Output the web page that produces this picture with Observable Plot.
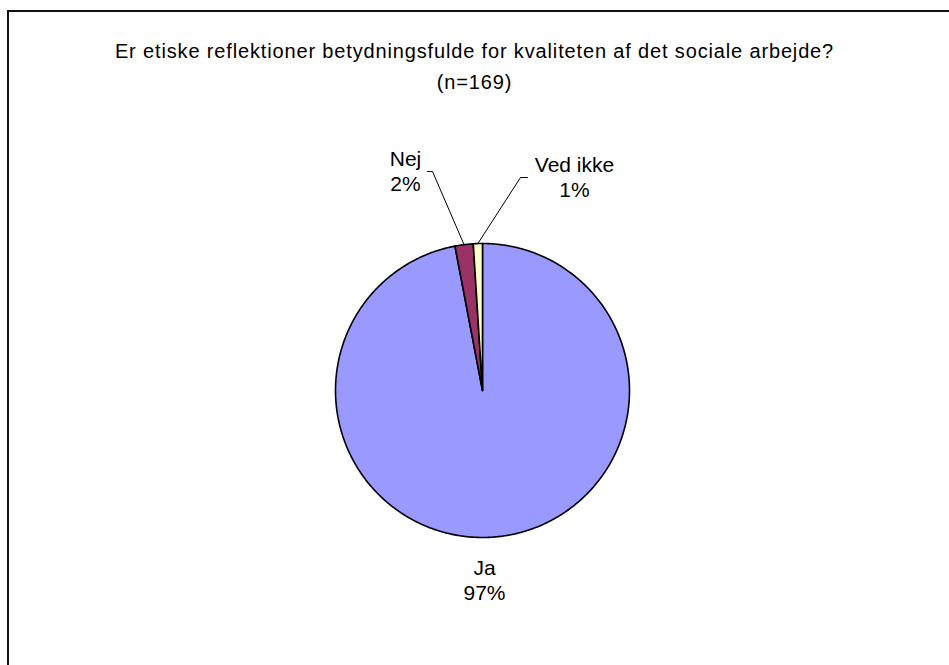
<!DOCTYPE html>
<html>
<head>
<meta charset="utf-8">
<script src="https://cdn.jsdelivr.net/npm/d3@7"></script>
<script src="https://cdn.jsdelivr.net/npm/@observablehq/plot@0.6"></script>
<style>
  html, body { margin: 0; padding: 0; background: #fff; overflow: hidden; }
  body { width: 949px; height: 665px; position: relative; font-family: Arial, "Liberation Sans", sans-serif; }
  #frame { position: absolute; left: 7px; top: 10px; width: 1000px; height: 720px; border-left: 2px solid #111; border-top: 2px solid #111; box-sizing: border-box; }
  #title { position: relative; width: 949px; box-sizing: border-box; text-align: center; font-size: 20px; letter-spacing: 0.85px; line-height: 31px; color: #000; padding-top: 36px; height: 100px; }
  #title div { width: 949px; }
  #chart { position: relative; }
</style>
</head>
<body>
<div id="frame"></div>
<div id="title"><div>Er etiske reflektioner betydningsfulde for kvaliteten af det sociale arbejde?</div><div>(n=169)</div></div>
<div id="chart"></div>
<script>
// ---- data ----
const categories = ["Ja", "Nej", "Ved ikke"];
const percents = [97, 2, 1];
const sliceColors = ["#9999FF", "#993366", "#FFFFCC"];

// ---- layout (pixels within the SVG) ----
const W = 949, H = 565, CX = 482, CY = 290, R = 147;
const px = (x) => (x - CX) / R;
const py = (y) => (CY - y) / R;

// pie geometry
const arcs = d3.pie().sort(null).startAngle(0).endAngle(2 * Math.PI)(percents);
const slicePts = [];
arcs.forEach((a, i) => {
  const cat = categories[i];
  slicePts.push({cat, x: 0, y: 0});
  const n = Math.max(2, Math.ceil((a.endAngle - a.startAngle) / (Math.PI / 360)));
  for (let k = 0; k <= n; k++) {
    const t = a.startAngle + (a.endAngle - a.startAngle) * k / n;
    slicePts.push({cat, x: Math.sin(t), y: Math.cos(t)});
  }
  slicePts.push({cat, x: 0, y: 0});
});

// label placement (layout)
const labelPos = {
  "Ja": {x: px(484), y: py(479), leader: null},
  "Nej": {x: px(405), y: py(70), leader: [[px(432), py(71)], [px(427), py(71)]]},
  "Ved ikke": {x: px(574), y: py(76), leader: [[px(520), py(77)], [px(527), py(77)]]}
};

const labels = arcs.map((a, i) => ({
  cat: categories[i],
  text: categories[i] + "\n" + percents[i] + "%",
  x: labelPos[categories[i]].x,
  y: labelPos[categories[i]].y
}));

const leaderPts = [];
arcs.forEach((a, i) => {
  const lp = labelPos[categories[i]];
  if (!lp.leader) return;
  const mid = (a.startAngle + a.endAngle) / 2;
  leaderPts.push({cat: categories[i], x: Math.sin(mid), y: Math.cos(mid)});
  lp.leader.forEach(([x, y]) => leaderPts.push({cat: categories[i], x, y}));
});

const chart = Plot.plot({
  width: W,
  height: H,
  margin: 0,
  x: {domain: [px(0), px(W)], axis: null},
  y: {domain: [py(H), py(0)], axis: null},
  color: {type: "ordinal", domain: categories, range: sliceColors},
  style: {fontFamily: "Arial, 'Liberation Sans', sans-serif", background: "transparent", overflow: "visible"},
  marks: [
    Plot.line(slicePts, {x: "x", y: "y", z: "cat", fill: "cat", stroke: "#000", strokeWidth: 1.6, curve: "linear", strokeLinejoin: "round"}),
    Plot.line(leaderPts, {x: "x", y: "y", z: "cat", stroke: "#000", strokeWidth: 1, curve: "linear"}),
    Plot.text(labels, {x: "x", y: "y", text: "text", fontSize: 21, lineHeight: 1.2, fill: "#000", textAnchor: "middle", lineAnchor: "middle"})
  ]
});
document.getElementById("chart").appendChild(chart);
</script>
</body>
</html>
